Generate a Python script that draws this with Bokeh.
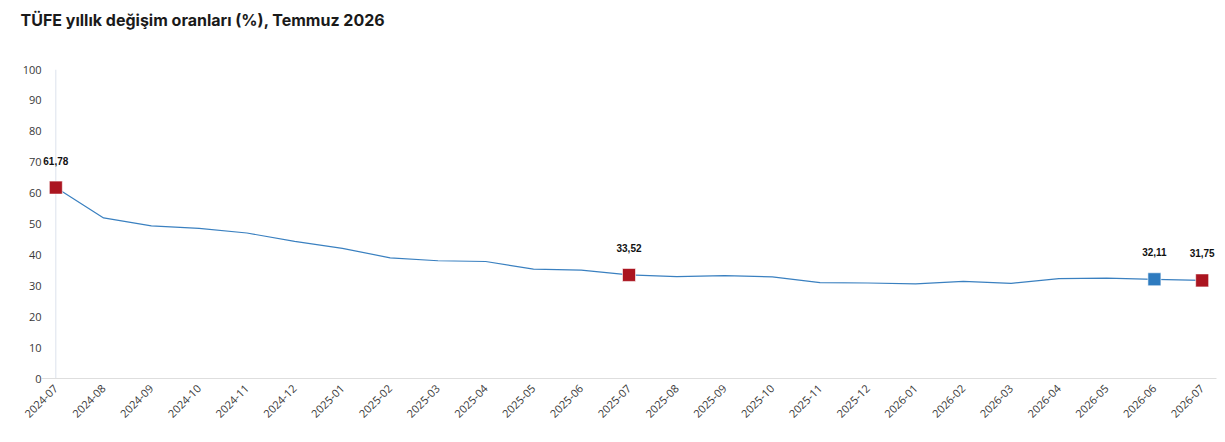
import math
from bokeh.plotting import figure
from bokeh.models import ColumnDataSource, FixedTicker, Span, LabelSet, Range1d, Title
from bokeh.core.properties import value
from bokeh.embed import file_html
from bokeh.resources import INLINE

months = ["2024-07", "2024-08", "2024-09", "2024-10", "2024-11", "2024-12",
          "2025-01", "2025-02", "2025-03", "2025-04", "2025-05", "2025-06",
          "2025-07", "2025-08", "2025-09", "2025-10", "2025-11", "2025-12",
          "2026-01", "2026-02", "2026-03", "2026-04", "2026-05", "2026-06",
          "2026-07"]
values = [61.78, 51.97, 49.38, 48.58, 47.09, 44.38, 42.12, 39.05, 38.10, 37.86,
          35.41, 35.05, 33.52, 32.95, 33.29, 32.87, 31.0, 30.9, 30.6, 31.4,
          30.8, 32.3, 32.5, 32.11, 31.75]
red_months = ["2024-07", "2025-07", "2026-07"]
blue_months = ["2026-06"]
y_ticks = [0, 10, 20, 30, 40, 50, 60, 70, 80, 90, 100]

xs = list(range(len(months)))
idx = {m: i for i, m in enumerate(months)}

def fmt(v):
    return f"{v:.2f}".replace(".", ",")

p = figure(width=1220, height=436, output_backend="svg", toolbar_location=None,
           x_range=Range1d(-0.3, len(months) - 1 + 0.3), y_range=Range1d(0, 100),
           min_border_left=41, min_border_right=4, min_border_top=69, min_border_bottom=58)
p.outline_line_color = None
p.background_fill_color = "white"
p.border_fill_color = "white"
p.xgrid.visible = False
p.ygrid.visible = False

p.title.text = "TÜFE yıllık değişim oranları (%), Temmuz 2026"
p.title.text_font = "Inter"
p.title.text_font_size = "16px"
p.title.text_font_style = "bold"
p.title.text_color = "#1a1a1a"
p.title.align = "left"
p.title.offset = -21
p.title.standoff = 14

# empty spacer between the title and the plot area
p.add_layout(Title(text=" ", text_font_size="1px", standoff=30), "above")

# axes
p.xaxis.ticker = FixedTicker(ticks=xs)
p.xaxis.major_label_overrides = {i: m for i, m in enumerate(months)}
p.xaxis.major_label_orientation = math.pi / 4
p.xaxis.major_tick_line_color = None
p.xaxis.major_tick_out = 0
p.xaxis.minor_tick_line_color = None
p.xaxis.axis_line_color = "#dedede"
p.xaxis.major_label_text_font = "Open Sans"
p.xaxis.major_label_text_font_size = "11px"
p.xaxis.major_label_text_color = "#383838"
p.xaxis.major_label_standoff = 8

p.yaxis.ticker = FixedTicker(ticks=y_ticks)
p.yaxis.major_tick_line_color = None
p.yaxis.major_tick_out = 0
p.yaxis.minor_tick_line_color = None
p.yaxis.axis_line_color = None
p.yaxis.major_label_text_font = "Open Sans"
p.yaxis.major_label_text_font_size = "11px"
p.yaxis.major_label_text_color = "#383838"
p.yaxis.major_label_standoff = 0

p.add_layout(Span(location=0, dimension="height", line_color="#dce2ec",
                  line_width=1, level="underlay"))

src = ColumnDataSource(dict(x=xs, y=values))
p.line("x", "y", source=src, line_color="#3a80c0", line_width=1.2)

red_src = ColumnDataSource(dict(x=[idx[m] for m in red_months],
                                y=[values[idx[m]] for m in red_months],
                                lab=[fmt(values[idx[m]]) for m in red_months]))
blue_src = ColumnDataSource(dict(x=[idx[m] for m in blue_months],
                                 y=[values[idx[m]] for m in blue_months],
                                 lab=[fmt(values[idx[m]]) for m in blue_months]))
p.scatter("x", "y", source=red_src, marker="square", size=13,
          fill_color="#ab1520", line_color="white", line_alpha=0.6, line_width=1)
p.scatter("x", "y", source=blue_src, marker="square", size=13,
          fill_color="#2e7bbf", line_color="white", line_alpha=0.6, line_width=1)

for s in (red_src, blue_src):
    p.add_layout(LabelSet(x="x", y="y", text="lab", source=s, y_offset=23,
                          text_align="center", text_baseline="bottom",
                          text_font=value("Liberation Sans"), text_font_size=value("10px"),
                          text_font_style="bold", text_color="#111111",
                          background_fill_color="white", background_fill_alpha=0.0))

open("out.html", "w").write(file_html(p, INLINE))
